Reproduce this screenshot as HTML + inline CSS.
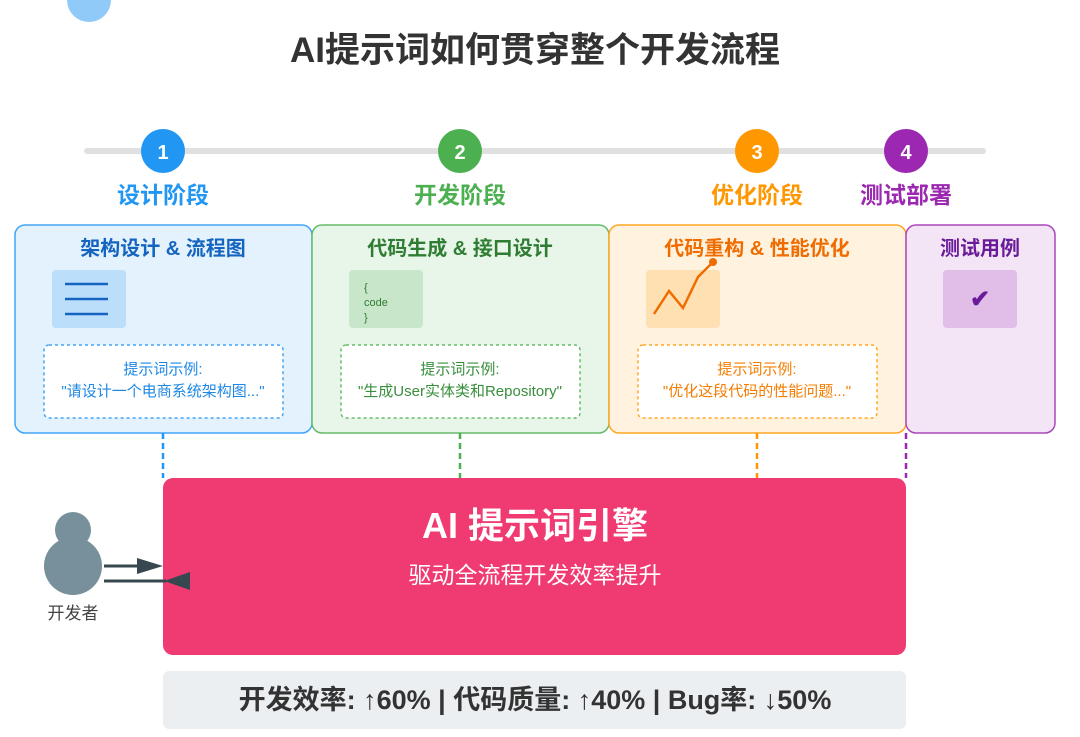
<!DOCTYPE html>
<html><head><meta charset="utf-8"><style>
html,body{margin:0;padding:0;background:#fff;}
svg{display:block;font-family:"Liberation Sans","Noto Sans CJK SC",sans-serif;}
</style></head><body>
<svg width="1080" height="737" viewBox="0 0 1080 737" xmlns="http://www.w3.org/2000/svg">
<circle cx="89" cy="0" r="22" fill="#90caf9"/>
<text x="535" y="62" text-anchor="middle" font-size="35" font-weight="bold" fill="#333">AI提示词如何贯穿整个开发流程</text>
<line x1="87" y1="151" x2="983" y2="151" stroke="#e0e0e0" stroke-width="6" stroke-linecap="round"/>
<g font-weight="bold" text-anchor="middle">
<circle cx="163" cy="151" r="22" fill="#2196f3"/><text x="163" y="159" font-size="20" fill="#fff">1</text>
<circle cx="460" cy="151" r="22" fill="#4caf50"/><text x="460" y="159" font-size="20" fill="#fff">2</text>
<circle cx="757" cy="151" r="22" fill="#ff9800"/><text x="757" y="159" font-size="20" fill="#fff">3</text>
<circle cx="906" cy="151" r="22" fill="#9c27b0"/><text x="906" y="159" font-size="20" fill="#fff">4</text>
<text x="163" y="203" font-size="23" fill="#2196f3">设计阶段</text>
<text x="460" y="203" font-size="23" fill="#4caf50">开发阶段</text>
<text x="757" y="203" font-size="23" fill="#ff9800">优化阶段</text>
<text x="906" y="203" font-size="23" fill="#9c27b0">测试部署</text>
</g>
<rect x="15" y="225" width="297" height="208" rx="10" fill="#e3f2fd" stroke="#42a5f5" stroke-width="1.5"/>
<rect x="312" y="225" width="297" height="208" rx="10" fill="#e8f5e9" stroke="#66bb6a" stroke-width="1.5"/>
<rect x="609" y="225" width="297" height="208" rx="10" fill="#fff3e0" stroke="#ffa726" stroke-width="1.5"/>
<rect x="906" y="225" width="149" height="208" rx="10" fill="#f3e5f5" stroke="#ab47bc" stroke-width="1.5"/>
<g font-weight="bold" text-anchor="middle" font-size="20">
<text x="163" y="255" fill="#1565c0">架构设计 &amp; 流程图</text>
<text x="460" y="255" fill="#2e7d32">代码生成 &amp; 接口设计</text>
<text x="757" y="255" fill="#ef6c00">代码重构 &amp; 性能优化</text>
<text x="980" y="255" fill="#6a1b9a">测试用例</text>
</g>
<rect x="52" y="270" width="74" height="58" rx="4" fill="#bbdefb"/>
<g stroke="#1565c0" stroke-width="2.5"><line x1="65" y1="284" x2="108" y2="284"/><line x1="65" y1="299" x2="108" y2="299"/><line x1="65" y1="314" x2="108" y2="314"/></g>
<rect x="349" y="270" width="74" height="58" rx="4" fill="#c8e6c9"/>
<g font-size="11" fill="#2e7d32"><text x="364" y="291">{</text><text x="364" y="306">code</text><text x="364" y="321">}</text></g>
<rect x="646" y="270" width="74" height="58" rx="4" fill="#ffe0b2"/>
<polyline points="654,314 669,291 683,308 698,277 713,262" fill="none" stroke="#ef6c00" stroke-width="2.5"/>
<circle cx="713" cy="262" r="4" fill="#ef6c00"/>
<rect x="943" y="270" width="74" height="58" rx="4" fill="#e1bee7"/>
<text x="980" y="307" text-anchor="middle" font-size="24" font-weight="bold" fill="#6a1b9a">✔</text>
<g fill="#fff" stroke-width="1.5" stroke-dasharray="3,3">
<rect x="44" y="345" width="239" height="73" rx="5" stroke="#42a5f5"/>
<rect x="341" y="345" width="239" height="73" rx="5" stroke="#66bb6a"/>
<rect x="638" y="345" width="239" height="73" rx="5" stroke="#ffa726"/>
</g>
<g text-anchor="middle" font-size="15">
<text x="163" y="374" fill="#1e88e5">提示词示例:</text><text x="163" y="396" fill="#1e88e5">"请设计一个电商系统架构图..."</text>
<text x="460" y="374" fill="#388e3c">提示词示例:</text><text x="460" y="396" fill="#388e3c">"生成User实体类和Repository"</text>
<text x="757" y="374" fill="#f57c00">提示词示例:</text><text x="757" y="396" fill="#f57c00">"优化这段代码的性能问题..."</text>
</g>
<g stroke-width="2.5" stroke-dasharray="6,4">
<line x1="163" y1="433" x2="163" y2="478" stroke="#2196f3"/>
<line x1="460" y1="433" x2="460" y2="478" stroke="#4caf50"/>
<line x1="757" y1="433" x2="757" y2="478" stroke="#ff9800"/>
<line x1="906" y1="433" x2="906" y2="478" stroke="#9c27b0"/>
</g>
<rect x="163" y="478" width="743" height="177" rx="10" fill="#ef3b72"/>
<text x="535" y="538" text-anchor="middle" font-size="36" font-weight="bold" fill="#fff">AI 提示词引擎</text>
<text x="535" y="583" text-anchor="middle" font-size="23" fill="#fff">驱动全流程开发效率提升</text>
<circle cx="73" cy="530" r="18" fill="#78909c"/>
<circle cx="73" cy="566" r="29" fill="#78909c"/>
<text x="73" y="619" text-anchor="middle" font-size="17" fill="#444">开发者</text>
<line x1="104" y1="566" x2="140" y2="566" stroke="#37474f" stroke-width="3"/>
<polygon points="137,558 163,566 137,574" fill="#37474f"/>
<line x1="104" y1="581" x2="166" y2="581" stroke="#37474f" stroke-width="3"/>
<polygon points="190,572 164,581 190,590" fill="#37474f"/>
<rect x="163" y="671" width="743" height="58" rx="6" fill="#eceff1"/>
<text x="535" y="709" text-anchor="middle" font-size="27" font-weight="bold" fill="#333">开发效率: ↑60% | 代码质量: ↑40% | Bug率: ↓50%</text>
</svg>
</body></html>
